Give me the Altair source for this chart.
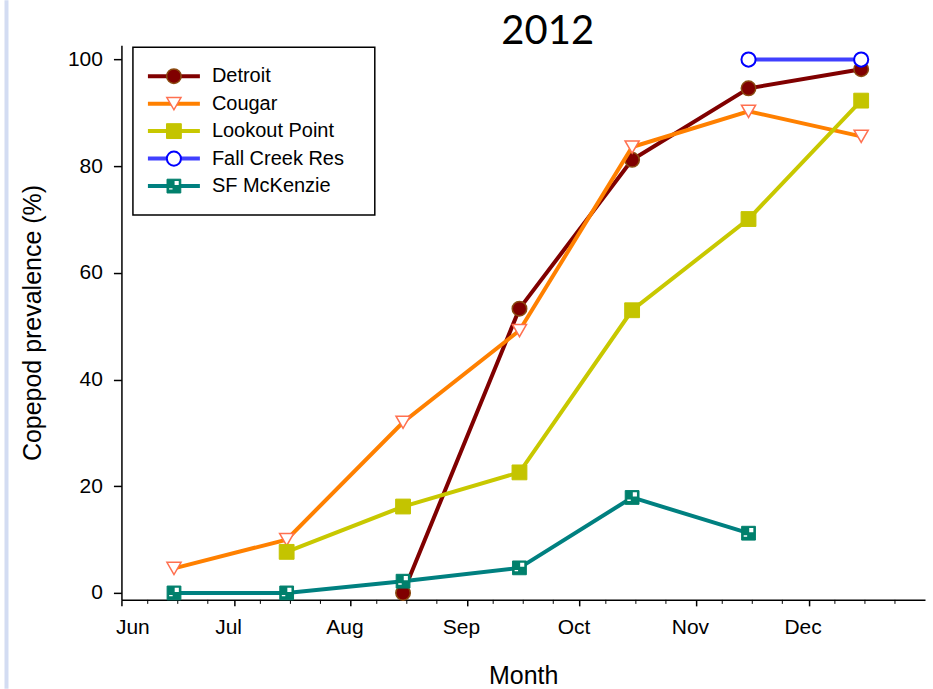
import altair as alt
import pandas as pd

# Sampling dates (mid-month) and prevalence (%) per reservoir
sample_dates = ["2012-06-15", "2012-07-15", "2012-08-15", "2012-09-15",
                "2012-10-15", "2012-11-15", "2012-12-15"]
detroit = [None, None, 0.0, 53.3, 81.2, 94.6, 98.2]
cougar = [4.6, 10.0, 32.0, 49.2, 83.6, 90.3, 85.6]
lookout_point = [None, 7.7, 16.2, 22.6, 53.0, 70.1, 92.3]
fall_creek = [None, None, None, None, None, 100.0, 100.0]
sf_mckenzie = [0.0, 0.0, 2.2, 4.7, 17.9, 11.2, None]

series_names = ["Detroit", "Cougar", "Lookout Point", "Fall Creek Res", "SF McKenzie"]
series_values = [detroit, cougar, lookout_point, fall_creek, sf_mckenzie]
month_numbers = [6, 7, 8, 9, 10, 11, 12]
y_ticks = [0, 20, 40, 60, 80, 100]

W, H = 804, 555
FONT = "Liberation Sans"

styles = {
    "Detroit": dict(line="#800000", shape="circle", fill="#800000", stroke="#8a4a10", size=210, sw=1.5),
    "Cougar": dict(line="#ff8000", shape="triangle-down", fill="white", stroke="#ff7050", size=200, sw=1.5),
    "Lookout Point": dict(line="#c8c800", shape="square", fill="#c4c400", stroke="#c4c400", size=220, sw=1),
    "Fall Creek Res": dict(line="#4040ff", shape="circle", fill="white", stroke="#0000ff", size=200, sw=2),
    "SF McKenzie": dict(line="#008080", shape="square", fill="#00806c", stroke="#00806c", size=190, sw=1),
}
mck_marks = "M0.1,-0.75 H0.7 V-0.15 H0.1 Z M-0.7,0.3 H-0.2 V0.5 H-0.7 Z"

x_scale = alt.Scale(
    type="utc",
    domain=[alt.DateTime(year=2012, month=6, date=1, utc=True),
            alt.DateTime(year=2013, month=1, date=1, utc=True)],
)
y_scale = alt.Scale(domain=[-1.3, 102.7], nice=False, zero=False)

axis_style = dict(
    grid=False, domainColor="black", tickColor="black", labelColor="black",
    titleColor="black", labelFont=FONT, titleFont=FONT, domainWidth=1.5, tickWidth=1.5,
    labelFontSize=21, titleFontSize=25, titleFontWeight="normal",
)
x_axis = alt.Axis(
    title="Month",
    values=[alt.DateTime(year=2012, month=m, date=1, utc=True) for m in month_numbers],
    labelExpr="utcFormat(datum.value, '%b')",
    labelOffset=-6, labelPadding=11, tickSize=6, titlePadding=26,
    **axis_style,
)
y_axis = alt.Axis(
    title="Copepod prevalence (%)",
    values=y_ticks,
    labelPadding=11, tickSize=8, titlePadding=22,
    **axis_style,
)

X = alt.X("date:T", scale=x_scale, axis=x_axis)
Y = alt.Y("value:Q", scale=y_scale, axis=y_axis)

layers = []

# minor ticks on the month axis (weekly)
minor = []
for m in month_numbers:
    for d in (8, 16, 24):
        minor.append(f"2012-{m:02d}-{d:02d}")
minor_df = pd.DataFrame({"date": minor})
layers.append(
    alt.Chart(minor_df).mark_rule(color="black", strokeWidth=1).encode(
        x=X, y=alt.value(H), y2=alt.value(H + 4)
    )
)

for name, vals in zip(series_names, series_values):
    st = styles[name]
    df = pd.DataFrame({"date": sample_dates, "value": vals}).dropna()
    base = alt.Chart(df).encode(x=X, y=Y)
    layers.append(base.mark_line(color=st["line"], strokeWidth=4))
    layers.append(base.mark_point(shape=st["shape"], filled=True, fill=st["fill"],
                                  stroke=st["stroke"], strokeWidth=st["sw"],
                                  size=st["size"], opacity=1))
    if name == "SF McKenzie":
        layers.append(base.mark_point(shape=mck_marks, filled=True, fill="white",
                                      strokeWidth=0, size=st["size"], opacity=1))

# legend box
one = pd.DataFrame({"k": [0]})
layers.append(
    alt.Chart(one).mark_rect(fill="white", stroke="black", strokeWidth=1.5).encode(
        x=alt.value(11.5), x2=alt.value(253.5), y=alt.value(2), y2=alt.value(170)
    )
)
for i, name in enumerate(series_names):
    st = styles[name]
    ry = 31 + 27.5 * i
    ldf = pd.DataFrame({"name": [name]})
    lb = alt.Chart(ldf)
    layers.append(lb.mark_rule(color=st["line"], strokeWidth=4).encode(
        x=alt.value(26.5), x2=alt.value(78.5), y=alt.value(ry)))
    layers.append(lb.mark_point(shape=st["shape"], filled=True, fill=st["fill"],
                                stroke=st["stroke"], strokeWidth=st["sw"],
                                size=st["size"], opacity=1).encode(
        x=alt.value(52.5), y=alt.value(ry)))
    if name == "SF McKenzie":
        layers.append(lb.mark_point(shape=mck_marks, filled=True, fill="white",
                                    strokeWidth=0, size=st["size"], opacity=1).encode(
            x=alt.value(52.5), y=alt.value(ry)))
    layers.append(lb.mark_text(align="left", baseline="middle", font=FONT,
                               fontSize=20, color="black").encode(
        x=alt.value(90.5), y=alt.value(ry), text="name:N"))

# year heading
year_df = pd.DataFrame({"year": ["2012"]})
layers.append(
    alt.Chart(year_df).mark_text(font="Lato", fontSize=40, color="black",
                                 baseline="middle", align="center").encode(
        x=alt.value(426.5), y=alt.value(-13), text="year:N")
)

# slide edge strip at the far left
layers.append(
    alt.Chart(one).mark_rule(color="#d3dcf2", strokeWidth=4).encode(
        x=alt.value(-115), y=alt.value(-45), y2=alt.value(H + 89)
    )
)

chart = alt.layer(*layers).properties(
    width=W, height=H,
    background="white",
    autosize=alt.AutoSizeParams(type="none"),
    padding={"left": 121.5, "top": 45, "right": 8, "bottom": 89},
).configure_view(stroke=None)

chart.save("out.html", embed_options={"renderer": "svg", "actions": False})
